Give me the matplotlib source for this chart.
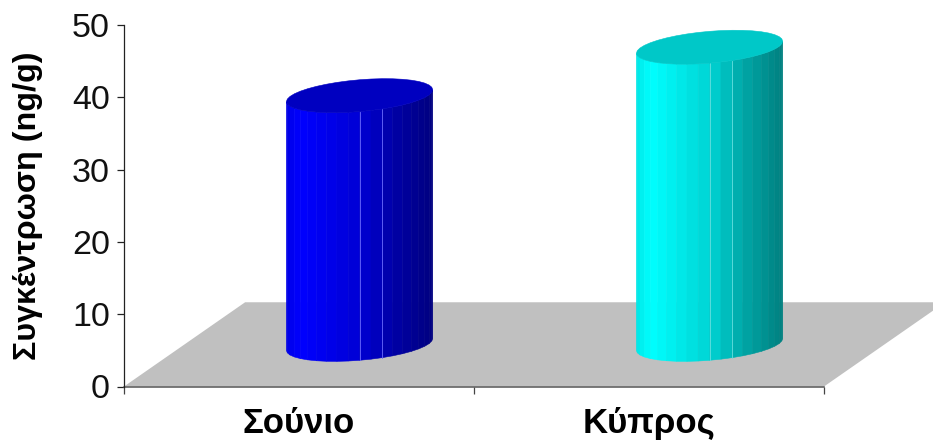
import numpy as np
import matplotlib
matplotlib.use("Agg")
import matplotlib.pyplot as plt
from matplotlib.patches import Polygon

plt.rcParams["font.family"] = ["Liberation Sans", "DejaVu Sans"]

categories = ["Σούνιο", "Κύπρος"]
values = [34.4, 41.1]
y_ticks = [0, 10, 20, 30, 40, 50]
ylabel = "Συγκέντρωση (ng/g)"

side_colors = [(0, 0, 255), (0, 255, 255)]
top_colors = ["#0000c0", "#00c8c8"]
seam_colors = ["#6a6aff", "#66e0e0"]

W, H = 933, 443
DEPTH_X = 0.346   # floor depth, in category slots
DEPTH_Y = 11.65   # floor depth, in value units
RADIUS = 0.209
RY = 2.2
SKEW = 0.83
N_FACETS = 20


def shade(u):
    # brightness across the cylinder, u = 0 at left edge, 1 at right edge
    return np.interp(u, [0, 0.1, 0.5, 0.72, 1], [0.9, 1.0, 0.83, 0.66, 0.5])


def ring(cx, cy, phi):
    return cx + RADIUS * np.cos(phi), cy + RY * np.sin(phi) + SKEW * np.cos(phi)


def draw_cylinder(ax, pos, value, side, top, seam):
    cx = pos + DEPTH_X / 2
    base = DEPTH_Y / 2
    phis = np.linspace(np.pi, 2 * np.pi, N_FACETS + 1)
    for i in range(N_FACETS):
        p = phis[i:i + 2]
        x0, y0 = ring(cx, base, p)
        x1, y1 = ring(cx, base + value, p)
        u = ((x0.mean() - cx) / RADIUS + 1) / 2
        col = tuple(c / 255 * shade(u) for c in side)
        ax.add_patch(Polygon([(x0[0], y0[0]), (x0[1], y0[1]), (x1[1], y1[1]), (x1[0], y1[0])],
                             closed=True, facecolor=col, edgecolor=col, lw=0.4, clip_on=False, zorder=3))
    # a couple of lighter joins between the facets
    for i in (10, 12):
        xs, ys = ring(cx, base, phis[i])
        xe, ye = ring(cx, base + value, phis[i])
        ax.plot([xs, xe], [ys, ye], color=seam, lw=0.6, clip_on=False, zorder=4)
    phi_top = np.linspace(0, 2 * np.pi, 2 * N_FACETS + 1)
    xt, yt = ring(cx, base + value, phi_top)
    ax.add_patch(Polygon(np.column_stack([xt, yt]), closed=True, facecolor=top, edgecolor=top,
                         lw=0.4, clip_on=False, zorder=5))


fig = plt.figure(figsize=(W / 100, H / 100), dpi=100)
ax = fig.add_axes([124 / W, 1 - 386.5 / H, 700 / W, 361.5 / H])
ax.set_xlim(0, len(categories))
ax.set_ylim(0, 50)

# grey floor running back from the category axis
n = len(categories)
ax.add_patch(Polygon([(0, 0), (DEPTH_X, DEPTH_Y), (n + DEPTH_X, DEPTH_Y), (n, 0)], closed=True,
                     facecolor="#c0c0c0", edgecolor="none", clip_on=False, zorder=1))

for i, cat in enumerate(categories):
    draw_cylinder(ax, i + 0.5, values[i], side_colors[i], top_colors[i], seam_colors[i])

for name in ("top", "right"):
    ax.spines[name].set_visible(False)
ax.spines["left"].set_linewidth(0.9)
ax.spines["left"].set_color("#222222")
ax.spines["bottom"].set_linewidth(1.1)
ax.spines["bottom"].set_color("#555555")
ax.spines["bottom"].set_zorder(2)

ax.set_yticks(y_ticks)
ax.tick_params(axis="y", labelsize=24.5, length=5, width=0.9, color="#222222", pad=5, labelcolor="#111111")
ax.set_xticks(range(n + 1))
ax.set_xticklabels([])
ax.tick_params(axis="x", which="major", length=5, width=0.9, color="#444444")
ax.set_xticks(np.arange(n) + 0.5, minor=True)
ax.set_xticklabels(categories, minor=True, fontsize=25, fontweight="bold")
ax.tick_params(axis="x", which="minor", length=0, pad=15)

fig.text(28 / W, 1 - 206 / H, ylabel, rotation=90, ha="center", va="center",
         fontsize=23.2, fontweight="bold")

fig.savefig("out.png", dpi=100)
